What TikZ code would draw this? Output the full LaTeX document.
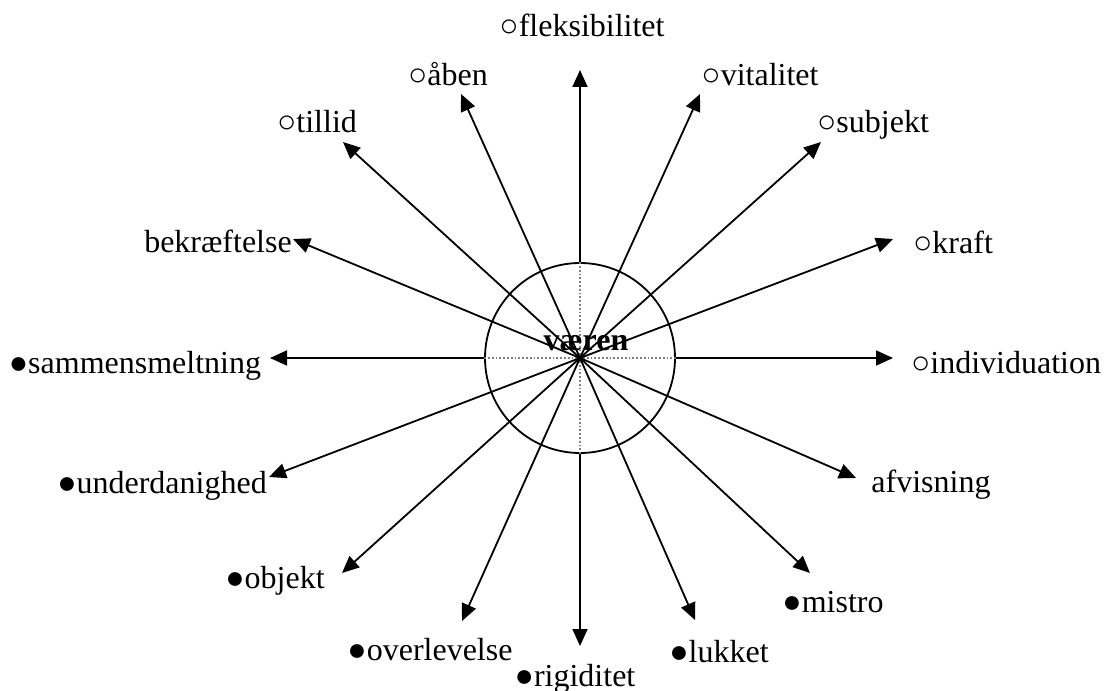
\documentclass[tikz,border=0pt]{standalone}
\usepackage{fontspec}
\setmainfont{Liberation Serif}
\usetikzlibrary{arrows.meta}

\tikzset{
  lbl/.style={anchor=base, inner sep=0pt, font=\fontsize{16}{19}\selectfont},
  arr/.style={-{Triangle[length=8.5pt, width=7.5pt]}, line width=0.9pt},
}

\begin{document}
\begin{tikzpicture}[x=0.5pt, y=-0.5pt]
\useasboundingbox (0,0) rectangle (1106,690);

% --- Centre and ring ---
\coordinate (c) at (580,358);
\node[circle, draw, line width=0.9pt, minimum size=95pt, inner sep=0pt] (ring) at (c) {};
\draw[gray, densely dotted, line width=0.9pt] (ring.west) -- (ring.east);
\draw[gray, densely dotted, line width=0.9pt] (ring.north) -- (ring.south);
\node[lbl, font=\fontsize{16}{19}\selectfont\bfseries] (vaeren) at (586,350) {væren};

% --- Axis arrows (start on the ring) ---
\foreach \n/\dir/\tx/\ty/\lx/\ly/\txt in {n/north/580/70/582/37/{○fleksibilitet},
                                          e/east/893/358/1006/373/{○individuation},
                                          s/south/580/646/575/686/{●rigiditet},
                                          w/west/270/358/135/373/{●sammensmeltning}} {
    \coordinate (t\n) at (\tx,\ty);
    \node[lbl] (l\n) at (\lx,\ly) {\txt};
    \draw[arr] (ring.\dir) -- (t\n);
}

% --- Diagonal arrows (start in the centre) ---
\foreach \n/\tx/\ty/\lx/\ly/\txt in {aben/461/94/448/85/{○åben},
                                     vital/700/94/760/85/{○vitalitet},
                                     tillid/343/142/317/133/{○tillid},
                                     subj/821/142/873/133/{○subjekt},
                                     bekr/293/239/218/252/{bekræftelse},
                                     kraft/893/239/953/253/{○kraft},
                                     under/269/477/162/493/{●underdanighed},
                                     afvis/856/478/931/492/{afvisning},
                                     obj/342/573/275/588/{●objekt},
                                     mistro/810/573/833/612/{●mistro},
                                     overl/462/621/430/660/{●overlevelse},
                                     lukket/695/620/719/662/{●lukket}} {
    \coordinate (t\n) at (\tx,\ty);
    \node[lbl] (l\n) at (\lx,\ly) {\txt};
    \draw[arr] (c) -- (t\n);
}

\end{tikzpicture}
\end{document}
